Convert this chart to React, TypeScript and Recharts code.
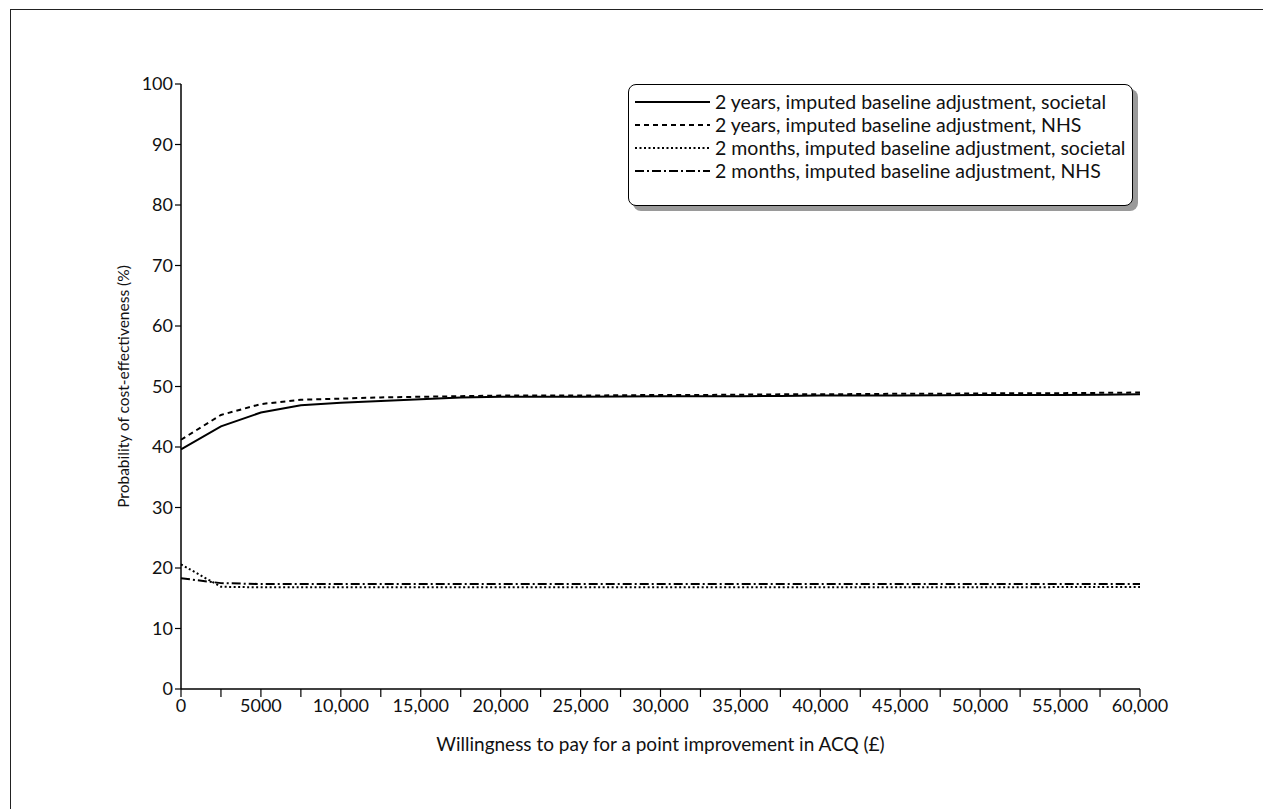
import { LineChart, Line, XAxis, YAxis } from "recharts";

const wtp = [
  0, 2500, 5000, 7500, 10000, 12500, 15000, 17500, 20000, 22500, 25000, 27500,
  30000, 32500, 35000, 37500, 40000, 42500, 45000, 47500, 50000, 52500, 55000,
  57500, 60000,
];

const yearsSocietal = [
  39.6, 43.4, 45.7, 46.9, 47.3, 47.6, 47.9, 48.2, 48.3, 48.3, 48.3, 48.35, 48.4,
  48.4, 48.4, 48.45, 48.5, 48.5, 48.5, 48.55, 48.6, 48.6, 48.6, 48.65, 48.7,
];
const yearsNhs = [
  41.2, 45.3, 47.1, 47.8, 48.0, 48.2, 48.3, 48.4, 48.5, 48.5, 48.5, 48.55, 48.6,
  48.6, 48.65, 48.7, 48.7, 48.75, 48.8, 48.8, 48.85, 48.9, 48.9, 48.95, 49.0,
];
const monthsSocietal = [
  20.6, 16.9, 16.8, 16.8, 16.8, 16.8, 16.8, 16.8, 16.8, 16.8, 16.8, 16.8, 16.8,
  16.8, 16.8, 16.8, 16.8, 16.8, 16.8, 16.8, 16.8, 16.8, 16.85, 16.85, 16.85,
];
const monthsNhs = [
  18.3, 17.5, 17.35, 17.35, 17.35, 17.35, 17.35, 17.35, 17.35, 17.35, 17.35,
  17.35, 17.35, 17.35, 17.35, 17.35, 17.35, 17.35, 17.35, 17.35, 17.35, 17.35,
  17.35, 17.35, 17.35,
];

const yTicks = [0, 10, 20, 30, 40, 50, 60, 70, 80, 90, 100];

const series = [
  { key: "ys", name: "2 years, imputed baseline adjustment, societal", dash: undefined },
  { key: "yn", name: "2 years, imputed baseline adjustment, NHS", dash: "5 4" },
  { key: "ms", name: "2 months, imputed baseline adjustment, societal", dash: "2 2.5" },
  { key: "mn", name: "2 months, imputed baseline adjustment, NHS", dash: "9 3 2 3" },
];

const data = wtp.map((x, i) => ({
  x,
  ys: yearsSocietal[i],
  yn: yearsNhs[i],
  ms: monthsSocietal[i],
  mn: monthsNhs[i],
}));

const font = "Lato, 'Open Sans', sans-serif";

const fmtX = (v: number) => {
  if (v % 5000 !== 0) return "";
  if (v < 10000) return String(v);
  return v.toLocaleString("en-GB");
};

// legend drawn as a plain overlay so it doesn't push the plot area down
const LegendBox = () => (
  <div style={{ position: "absolute", left: 628, top: 84, width: 510, height: 128 }}>
    <div
      style={{
        position: "absolute",
        left: 5,
        top: 5,
        width: 505,
        height: 122,
        background: "#9a9a9a",
        borderRadius: 8,
      }}
    />
    <div
      style={{
        position: "absolute",
        left: 0,
        top: 0,
        width: 503,
        height: 115,
        background: "#fff",
        border: "1px solid #000",
        borderRadius: 8,
        paddingTop: 5,
        boxSizing: "content-box",
      }}
    >
      {series.map((s) => (
        <div
          key={s.key}
          style={{ display: "flex", alignItems: "center", height: 23 }}
        >
          <svg width={82} height={10} style={{ marginLeft: 4, flexShrink: 0 }}>
            <line
              x1={2}
              y1={5}
              x2={77}
              y2={5}
              stroke="#000"
              strokeWidth={2}
              strokeDasharray={s.dash}
            />
          </svg>
          <span
            style={{
              fontFamily: font,
              fontSize: 19.5,
              color: "#111",
              whiteSpace: "nowrap",
              lineHeight: "22px",
            }}
          >
            {s.name}
          </span>
        </div>
      ))}
    </div>
  </div>
);

export default function App() {
  return (
    <div
      style={{
        position: "fixed",
        left: 0,
        top: 0,
        width: 1263,
        height: 809,
        overflow: "hidden",
        background: "#fff",
      }}
    >
      <div
        style={{
          position: "absolute",
          left: 10,
          top: 9,
          width: 1300,
          height: 900,
          borderLeft: "1.5px solid #222",
          borderTop: "1.5px solid #222",
        }}
      />
      <div style={{ position: "absolute", left: 0, top: 0 }}>
        <LineChart
          width={1263}
          height={809}
          data={data}
          margin={{ top: 84, right: 123, left: 121, bottom: 90 }}
        >
          <XAxis
            dataKey="x"
            type="number"
            domain={[0, 60000]}
            ticks={wtp}
            interval={0}
            tickFormatter={fmtX}
            height={30}
            tickSize={8}
            axisLine={{ stroke: "#000", strokeWidth: 1.5 }}
            tickLine={{ stroke: "#000", strokeWidth: 1.2 }}
            tick={{ fill: "#111", fontSize: 18, fontFamily: font }}
            label={{
              value: "Willingness to pay for a point improvement in ACQ (£)",
              position: "insideBottom",
              offset: -32,
              fill: "#111",
              fontSize: 19,
              fontFamily: font,
            }}
          />
          <YAxis
            type="number"
            domain={[0, 100]}
            ticks={yTicks}
            interval={0}
            width={60}
            tickSize={6}
            axisLine={{ stroke: "#000", strokeWidth: 1.5 }}
            tickLine={{ stroke: "#000", strokeWidth: 1.2 }}
            tick={{ fill: "#111", fontSize: 18, fontFamily: font }}
            label={{
              value: "Probability of cost-effectiveness (%)",
              angle: -90,
              position: "insideLeft",
              offset: 2,
              style: { textAnchor: "middle" },
              fill: "#111",
              fontSize: 15.5,
              fontFamily: font,
            }}
          />
          {series.map((s) => (
            <Line
              key={s.key}
              dataKey={s.key}
              name={s.name}
              type="linear"
              stroke="#000"
              strokeWidth={2}
              strokeDasharray={s.dash}
              dot={false}
              activeDot={false}
              isAnimationActive={false}
            />
          ))}
        </LineChart>
      </div>
      <LegendBox />
    </div>
  );
}
